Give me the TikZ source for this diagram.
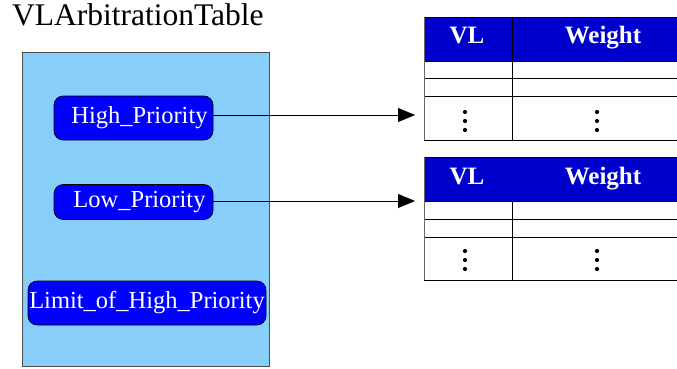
\documentclass[tikz,border=0pt]{standalone}
\usepackage{fontspec}
\setmainfont{Liberation Serif}
\usetikzlibrary{arrows.meta}
\definecolor{boxblue}{RGB}{135,206,250}
\definecolor{hdrblue}{RGB}{0,0,205}
\begin{document}
\begin{tikzpicture}[x=1pt,y=-1pt,
  prio/.style={draw=black, fill=blue, text=white, rounded corners=9pt,
    font=\fontsize{24.5}{28}\selectfont, inner sep=0pt, line width=0.6pt},
  hdr/.style={fill=hdrblue, inner sep=0pt, anchor=north west, minimum width=253pt, minimum height=44pt},
  hdrtext/.style={text=white, font=\fontsize{25}{28}\selectfont\bfseries, inner sep=0pt, anchor=base},
  grid/.style={draw=black, line width=0.7pt},
  dotstyle/.style={fill=black},
  conn/.style={draw=black, line width=0.9pt, -{Triangle[length=17pt,width=14pt]}}
]
\useasboundingbox (0,0) rectangle (677,369);

% title
\node[anchor=base west, inner sep=0pt, font=\fontsize{31.5}{34}\selectfont] (title) at (12,26) {VLArbitrationTable};

% container
\node[draw=black!70, fill=boxblue, anchor=north west, minimum width=247pt, minimum height=314pt, inner sep=0pt, line width=0.6pt] (box) at (22,52) {};

\node[prio, minimum width=159pt, minimum height=44pt] (hp) at (133.5,118) {\hspace{12pt}High\_Priority};
\node[prio, minimum width=159pt, minimum height=35pt] (lp) at (133.5,202) {\hspace{12pt}Low\_Priority};
\node[prio, minimum width=238pt, minimum height=44pt] (lim) at (147,303) {Limit\_of\_High\_Priority};

% table 1
\node[hdr] (t1) at (424,17) {};
\node[hdrtext] (t1vl) at (467,44) {VL};
\node[hdrtext] (t1w) at (603,44) {Weight};
\draw[grid] (424,17) -- (677,17);
\draw[grid] (424,61) -- (677,61);
\draw[grid] (424,78) -- (677,78);
\draw[grid] (424,96) -- (677,96);
\draw[grid] (424,140) -- (677,140);
\draw[grid, draw=black!60] (424,17) -- (424,140);
\draw[grid] (512,17) -- (512,140);
\foreach \yy in {112,121,130} {
  \fill[dotstyle] (465,\yy) circle (2.1pt);
  \fill[dotstyle] (597,\yy) circle (2.1pt);
}

% table 2
\node[hdr] (t2) at (424,157) {};
\node[hdrtext] (t2vl) at (467,184) {VL};
\node[hdrtext] (t2w) at (603,184) {Weight};
\draw[grid] (424,157) -- (677,157);
\draw[grid] (424,201) -- (677,201);
\draw[grid] (424,219) -- (677,219);
\draw[grid] (424,237) -- (677,237);
\draw[grid] (424,280) -- (677,280);
\draw[grid, draw=black!60] (424,157) -- (424,280);
\draw[grid] (512,201) -- (512,280);
\foreach \yy in {251,260,269} {
  \fill[dotstyle] (465,\yy) circle (2.1pt);
  \fill[dotstyle] (597,\yy) circle (2.1pt);
}

% connectors
\coordinate (a1) at (415,115);
\coordinate (a2) at (415,201);
\draw[conn] (hp.east |- a1) -- (a1);
\draw[conn] (lp.east |- a2) -- (a2);
\end{tikzpicture}
\end{document}
